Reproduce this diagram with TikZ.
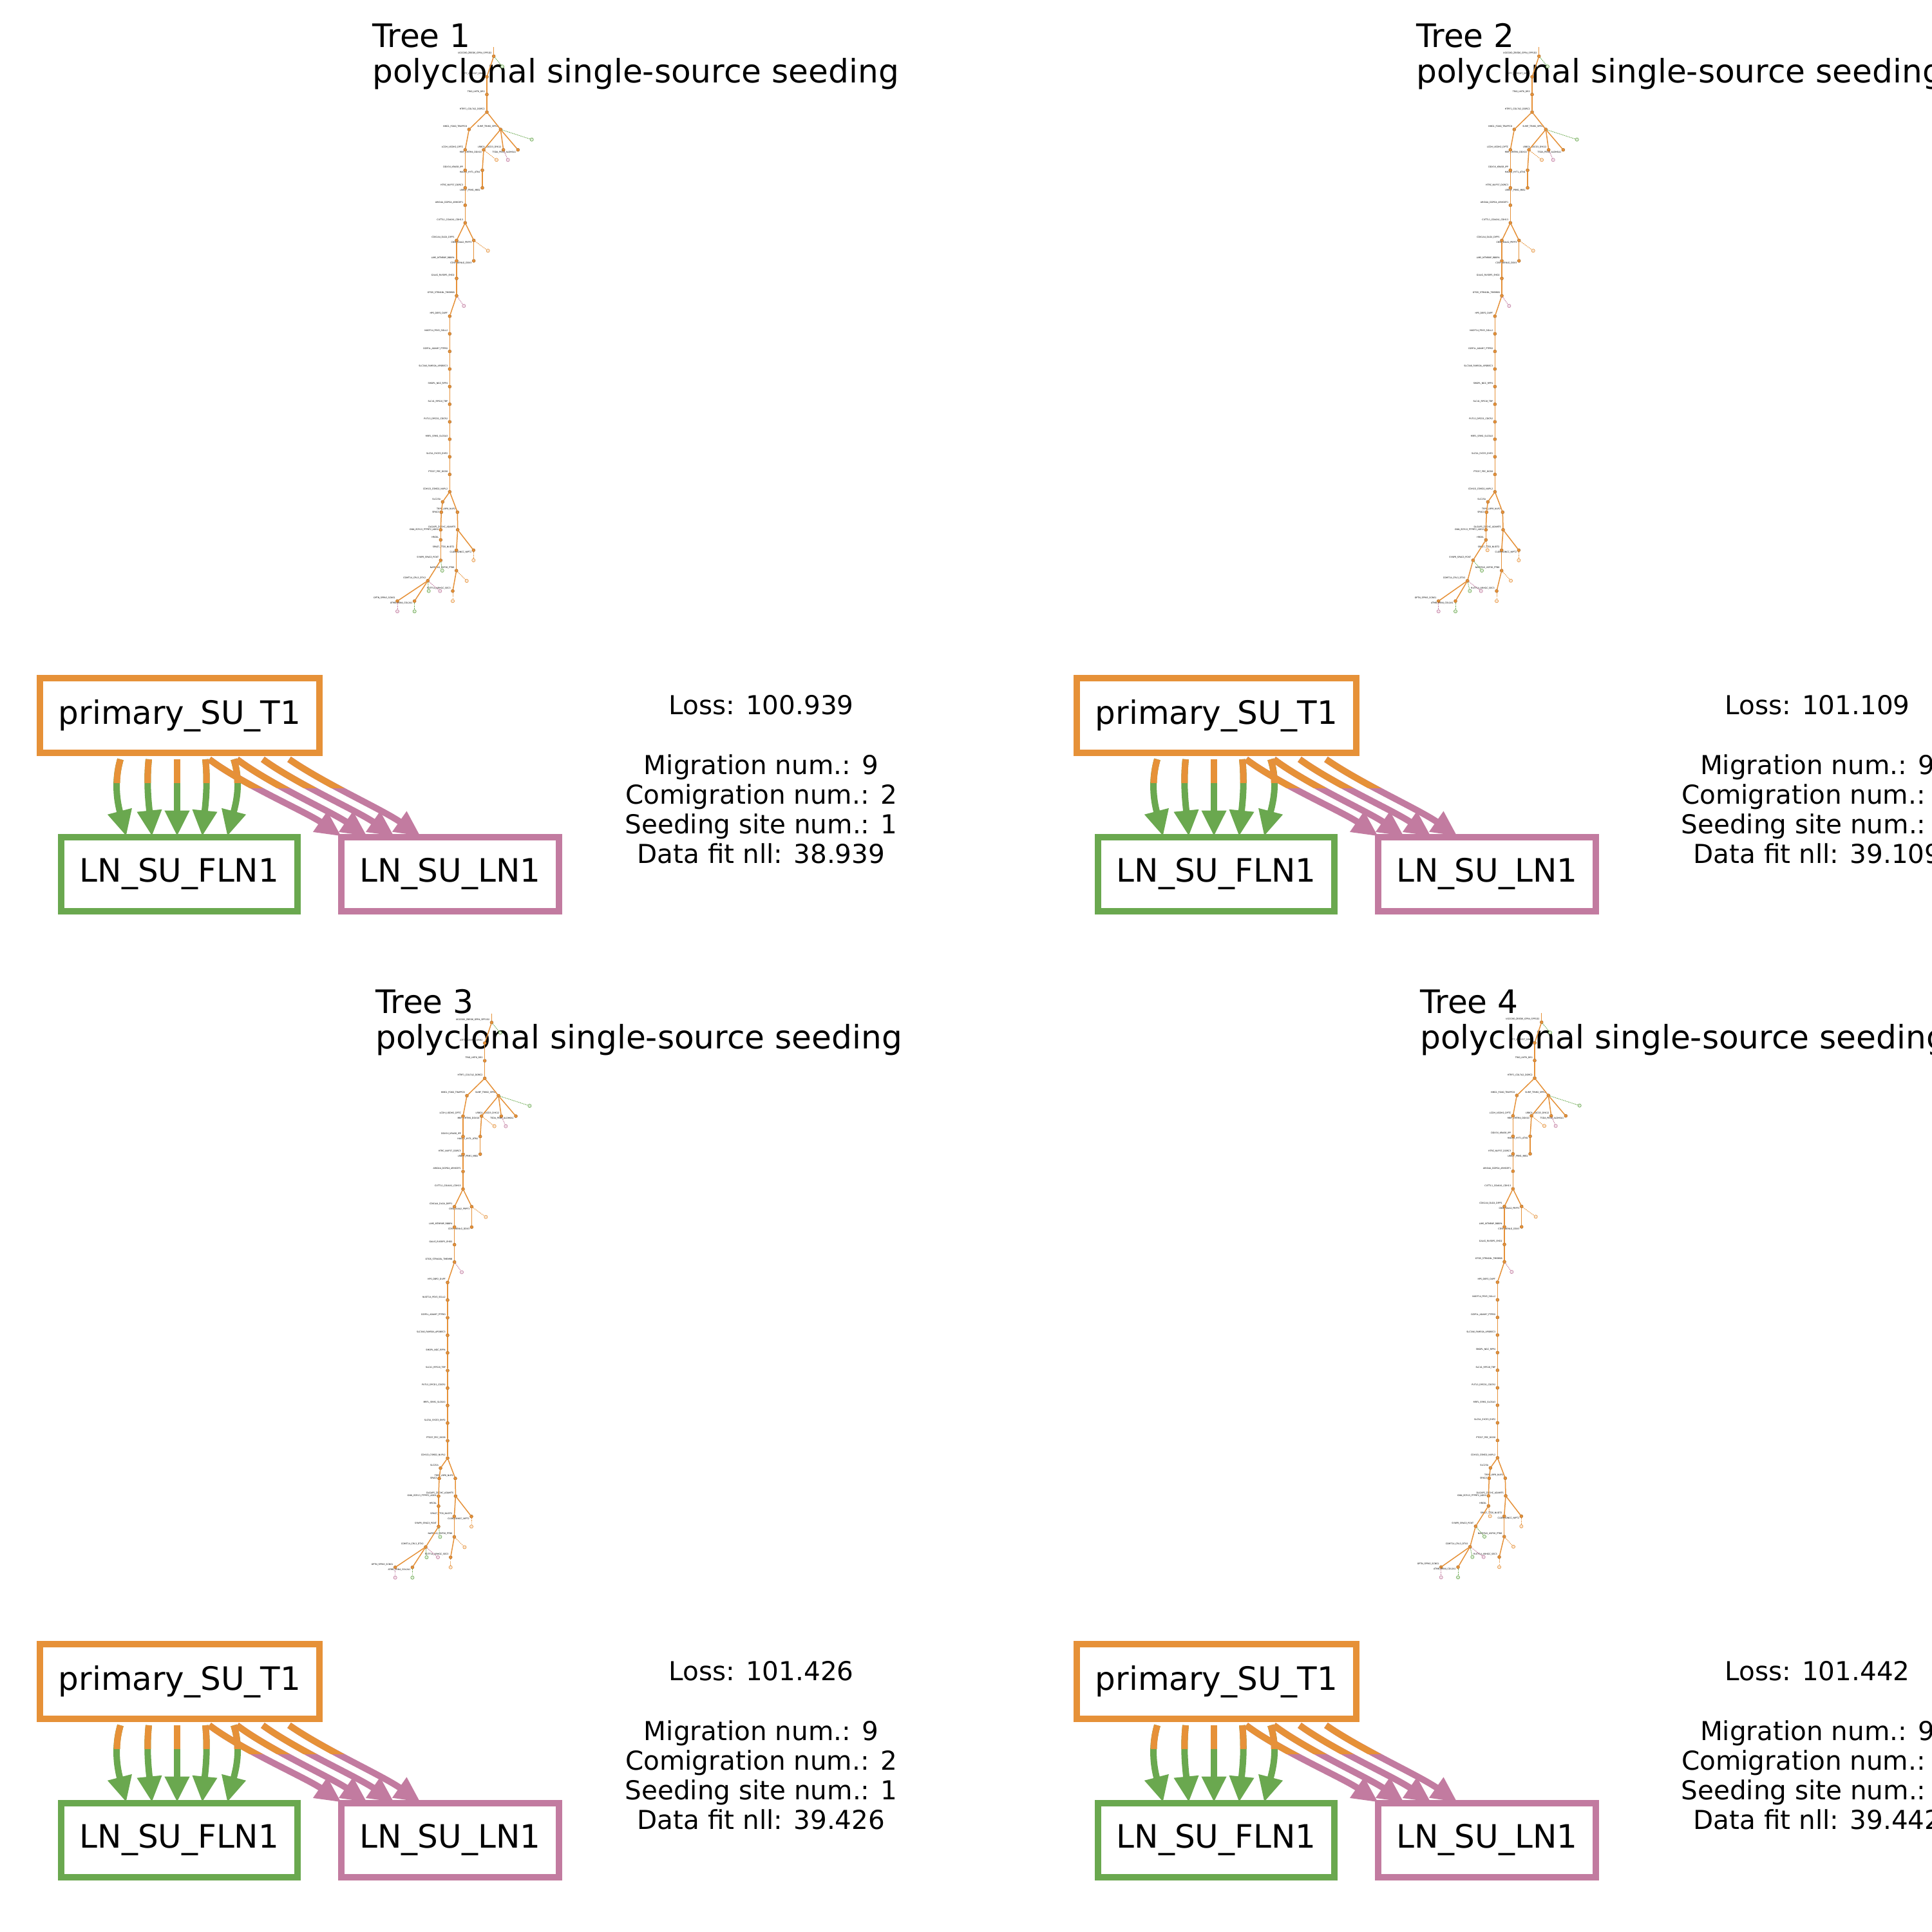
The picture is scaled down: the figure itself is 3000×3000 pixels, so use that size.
\documentclass[tikz,border=0pt]{standalone}
\usepackage{fontspec}
\setmainfont{DejaVu Sans}
\usetikzlibrary{arrows.meta}
\definecolor{cOr}{RGB}{230,145,56}
\definecolor{cGr}{RGB}{106,168,79}
\definecolor{cPk}{RGB}{194,123,160}
\tikzset{
  titletext/.style={anchor=base west,inner sep=0pt,font=\fontsize{50.2}{56}\selectfont},
  stattext/.style={anchor=base,inner sep=0pt,font=\fontsize{40.5}{46}\selectfont},
  sitebox/.style={draw=#1,line width=10pt,rectangle,inner sep=0pt,fill=white,font=\fontsize{50}{56}\selectfont},
  tnode/.style={circle,fill=cOr,draw=cOr!70!black,line width=0.4pt,minimum size=5pt,inner sep=0pt},
  tleaf/.style={circle,fill=#1!22,draw=#1,line width=0.6pt,minimum size=5.2pt,inner sep=0pt},
  tedge/.style={draw=cOr,line width=1.5pt},
  tdash/.style={draw=#1,line width=0.9pt,dash pattern=on 1.6pt off 1.1pt},
  tlabel/.style={anchor=east,inner sep=0pt,font=\fontsize{3.3}{4}\selectfont,text=black},
  migarrow/.style={draw=#1,line width=10pt,-{Triangle[length=40pt,width=36pt]}},
  migline/.style={draw=cOr,line width=10pt},
}
\newcommand\TN[5]{\node[tnode] (#1) at (#2,#3) {};\node[tlabel] (#1l) at ([xshift=-3pt,yshift=#5]#1.center) {#4};}
\newcommand\TL[5]{\node[tleaf=#4] (#1) at (#2,#3) {};\draw[tdash=#4] (#5) -- (#1);}
\newcommand\TE[2]{\draw[tedge] (#1) -- (#2);}
\newcommand\TreeTop{%
\coordinate (a0) at (766.7,73.3);
\TN{a}{766.7}{87.3}{UGCG9D\_ZBED6\_GPR4\_SPP1D2}{4.3pt}
\TN{b}{756}{119.3}{ATF7\_CD55SIT\_DRM2}{4.3pt}
\TN{c}{756}{146.7}{TRIO\_LMTK\_DR3}{4.3pt}
\TN{d}{756}{174}{HTRF1\_COL7A2\_DORC2}{4.3pt}
\TN{e}{728.3}{201}{HMG1\_FOXO\_TRAPPC8}{4.3pt}
\TN{f}{777.3}{201}{SUMF\_TRIM2\_SPPL2}{4.3pt}
\TN{g}{751}{232.7}{MBF\_CMTM4\_DDX10}{-3.5pt}
\TN{h}{781.7}{232.7}{LRBC4\_ADCD3\_DYK12}{4.3pt}
\TN{i}{804.3}{232.7}{TSDA\_PEG2\_ALDH6A1}{-3.5pt}
\TN{j}{749}{264.3}{HAGH2\_HYTL\_ATN1}{-3.5pt}
\TN{k}{749}{291.7}{LRBOF\_PRM1\_MIB2}{-3.5pt}
\TN{l}{722.3}{232.7}{LCDH\_UGDH2\_DPTC}{4.3pt}
\TN{m}{722.3}{264.3}{DDX3X\_KRAS8\_IPP}{4.3pt}
\TN{n}{722.3}{291.7}{HTRC\_NUP37\_DORC3}{4.3pt}
\TN{o}{722.3}{318.7}{ARID4A\_DGPG4\_ARHGEF1}{4.3pt}
\TN{p}{722.3}{346}{CUTTL1\_COL6A1\_CDH13}{4.3pt}
\TN{q}{709}{373.3}{CDK1A4\_DLG4\_DIPP1}{4.3pt}
\TN{r}{735.7}{373.3}{CBSL\_KIAA2\_PRPF3}{-3.5pt}
\TN{s}{735.7}{405}{CD5F\_DENLG\_DDX3}{-3.5pt}
\TN{t}{709}{405}{LIMS\_MTMR9P\_RBBP4}{4.3pt}
\TN{u}{709}{432.3}{GALIG\_RUSBP1\_EHD2}{4.3pt}
\TN{v}{709}{459.3}{OTOS\_STRN1BL\_TMEM9B}{4.3pt}
\TN{w}{698.3}{491}{HPS\_DBP2\_DUPF}{4.3pt}
\TN{c1}{698.3}{518.3}{NUDT14\_PEX5\_SGLL2}{4.3pt}
\TN{c2}{698.3}{545.7}{DZIP1L\_ADAM7\_PTPRD}{4.3pt}
\TN{c3}{698.3}{573}{SLC3A6\_FAM50A\_APOBEC3}{4.3pt}
\TN{c4}{698.3}{600.3}{SMOPL\_NGC\_RPP4}{4.3pt}
\TN{c5}{698.3}{627.7}{SLC41\_RPS18\_TBP}{4.3pt}
\TN{c6}{698.3}{655}{PUTL3\_DPCD1\_CDCR2}{4.3pt}
\TN{c7}{698.3}{682}{MRFL\_SRM1\_SLC6A3}{4.3pt}
\TN{c8}{698.3}{709.3}{SLC5A\_SYCE3\_EHP2}{4.3pt}
\TN{c9}{698.3}{736.7}{PTGS7\_PEC\_DGS8}{4.3pt}
\TN{x}{698.3}{763.7}{CDH1D\_CSMD2\_NUPL2}{4.3pt}
\TE{a0}{a}\TE{a}{b}\TE{b}{c}\TE{c}{d}\TE{d}{e}\TE{d}{f}
\TE{f}{g}\TE{f}{h}\TE{f}{i}\TE{g}{j}\TE{j}{k}
\TE{e}{l}\TE{l}{m}\TE{m}{n}\TE{n}{o}\TE{o}{p}\TE{p}{q}\TE{p}{r}\TE{r}{s}
\TE{q}{t}\TE{t}{u}\TE{u}{v}\TE{v}{w}\TE{w}{c1}\TE{c1}{c2}\TE{c2}{c3}\TE{c3}{c4}
\TE{c4}{c5}\TE{c5}{c6}\TE{c6}{c7}\TE{c7}{c8}\TE{c8}{c9}\TE{c9}{x}
\TL{lfa}{780}{103.3}{cGr}{a}
\TL{lff}{825.7}{216.7}{cGr}{f}
\TL{lfg}{771}{248.3}{cOr}{g}
\TL{lfh}{788.7}{248.3}{cPk}{h}
\TL{lfr}{757.7}{389.3}{cOr}{r}
\TL{lfv}{720.3}{475}{cPk}{v}
}
\newcommand\TreeLowA{%
\TN{y}{687.3}{779.3}{SLC25A}{4.3pt}
\TN{z}{710.3}{795.3}{TRP6\_LRP8\_NUP2}{4.3pt}
\TN{y2}{685.3}{795.3}{SPAG3}{0pt}
\TN{y3}{684.3}{822.7}{GNN\_ZCR13\_PTPRT2\_ADD2}{0pt}
\TN{y4}{684.3}{838.3}{HRC6L}{4.3pt}
\TN{y5}{684.3}{870}{SYNPR\_SPAG3\_PCNT}{4.3pt}
\TN{y6}{664.3}{901.7}{COMT14\_CRL3\_DTX2}{4.3pt}
\TN{y7}{617}{933.3}{OPTN\_SPPA5\_SCNS1}{4.3pt}
\TN{y8}{643.7}{933.3}{ATMB\_CKN4\_COL2A1}{-3.5pt}
\TN{z2}{710.7}{822.7}{DLGAP5\_ZCCHC\_ADAMTS}{4.3pt}
\TN{z3}{708.7}{854.3}{SPAG7\_TTC6\_NUDT2}{4.3pt}
\TN{z4}{735.3}{854.3}{CLDN\_LONCC\_NIPT2}{-3.5pt}
\TN{z5}{708.7}{886}{NAPEPLD\_USP30\_PTB8}{4.3pt}
\TN{z6}{703}{917.7}{RUTF14\_ARHGC\_SEC3}{4.3pt}
\TE{x}{y}\TE{x}{z}\TE{y}{y2}\TE{y2}{y3}\TE{y3}{y4}\TE{y4}{y5}\TE{y5}{y6}\TE{y6}{y7}\TE{y6}{y8}
\TE{z}{z2}\TE{z2}{z3}\TE{z2}{z4}\TE{z3}{z5}\TE{z5}{z6}
\TL{lfy5}{686.7}{886}{cGr}{y5}
\TL{lfy6a}{665.7}{917.7}{cGr}{y6}
\TL{lfy6b}{683.3}{917.7}{cPk}{y6}
\TL{lfy7}{617}{949.3}{cPk}{y7}
\TL{lfy8}{643.7}{949.3}{cGr}{y8}
\TL{lfz4}{735.3}{870}{cOr}{z4}
\TL{lfz5}{724.7}{902}{cOr}{z5}
\TL{lfz6}{703}{933.3}{cOr}{z6}
}
\newcommand\TreeLowB{%
\TN{y}{687.3}{779.3}{SLC25A}{4.3pt}
\TN{z}{710.3}{795.3}{TRP6\_LRP8\_NUP2}{4.3pt}
\TN{y2}{685.3}{795.3}{SPAG3}{0pt}
\TN{y3}{684.3}{822.7}{GNN\_ZCR13\_PTPRT2\_ADD2}{0pt}
\TN{y4}{684.3}{838.3}{HRC6L}{4.3pt}
\TN{y5}{664.3}{870}{SYNPR\_SPAG3\_PCNT}{4.3pt}
\TN{y6}{655.7}{901.7}{COMT14\_CRL3\_DTX2}{4.3pt}
\TN{y7}{610.7}{933.3}{OPTN\_SPPA5\_SCNS1}{4.3pt}
\TN{y8}{637}{933.3}{ATMB\_CKN4\_COL2A1}{-3.5pt}
\TN{z2}{711}{822.7}{DLGAP5\_ZCCHC\_ADAMTS}{4.3pt}
\TN{z3}{708.7}{854.3}{SPAG7\_TTC6\_NUDT2}{4.3pt}
\TN{z4}{735.3}{854.3}{CLDN\_LONCC\_NIPT2}{-3.5pt}
\TN{z5}{708.7}{886}{NAPEPLD\_USP30\_PTB8}{4.3pt}
\TN{z6}{701}{917.7}{RUTF14\_ARHGC\_SEC3}{4.3pt}
\TE{x}{y}\TE{x}{z}\TE{y}{y2}\TE{y2}{y3}\TE{y3}{y4}\TE{y4}{y5}\TE{y5}{y6}\TE{y6}{y7}\TE{y6}{y8}
\TE{z}{z2}\TE{z2}{z3}\TE{z2}{z4}\TE{z3}{z5}\TE{z5}{z6}
\TL{lfy4}{686.7}{854.3}{cOr}{y4}
\TL{lfy5}{678}{886}{cGr}{y5}
\TL{lfy6a}{659.3}{917.7}{cGr}{y6}
\TL{lfy6b}{676.7}{917.7}{cPk}{y6}
\TL{lfy7}{610.7}{949.3}{cPk}{y7}
\TL{lfy8}{637}{949.3}{cGr}{y8}
\TL{lfz4}{735.3}{870}{cOr}{z4}
\TL{lfz5}{723}{901.7}{cOr}{z5}
\TL{lfz6}{701}{933.3}{cOr}{z6}
}
\newcommand\TwoTone[5]{%
\draw[migarrow=#4] (#1) .. controls #2 .. (#3);
\begin{scope}\clip (-500,1100) rectangle (1500,#5);
\draw[migline] (#1) .. controls #2 .. (#3);\end{scope}}
\newcommand\MigGraph{%
\node[sitebox=cOr,minimum width=434pt,minimum height=116pt] (prim) at (279,1111) {primary\_SU\_T1};
\node[sitebox=cGr,minimum width=367pt,minimum height=115pt] (fln) at (278.5,1357) {LN\_SU\_FLN1};
\node[sitebox=cPk,minimum width=338pt,minimum height=115pt] (ln) at (699,1357) {LN\_SU\_LN1};
\foreach \n/\sx/\tx in {1/130/106,2/174/146,3/218/185,4/262/224,5/306/263}{%
  \coordinate (gs\n) at ([xshift=\sx pt,yshift=-5pt]prim.south west);
  \coordinate (gt\n) at ([xshift=\tx pt,yshift=-4pt]fln.north west);}
\foreach \n/\sx/\tx in {1/268/5,2/311/45,3/351/87,4/392/128}{%
  \coordinate (ps\n) at ([xshift=\sx pt,yshift=-5pt]prim.south west);
  \coordinate (pt\n) at ([xshift=\tx pt,yshift=-4pt]ln.north west);}
\TwoTone{gs1}{+(-11,38) and +(-13,-50)}{gt1}{cGr}{1215}
\TwoTone{gs2}{+(-4,38) and +(-5,-50)}{gt2}{cGr}{1215}
\TwoTone{gs3}{+(0,38) and +(0,-50)}{gt3}{cGr}{1215}
\TwoTone{gs4}{+(4,38) and +(5,-50)}{gt4}{cGr}{1215}
\TwoTone{gs5}{+(12,38) and +(13,-50)}{gt5}{cGr}{1215}
\TwoTone{ps1}{+(50,38) and +(-55,-38)}{pt1}{cPk}{1223}
\TwoTone{ps2}{+(50,38) and +(-55,-38)}{pt2}{cPk}{1223}
\TwoTone{ps3}{+(52,38) and +(-58,-40)}{pt3}{cPk}{1223}
\TwoTone{ps4}{+(55,38) and +(-60,-42)}{pt4}{cPk}{1223}
}
\newcommand\Stats[2]{%
\node[stattext] (st1) at (1182,1109) {Loss: #1};
\node[stattext] (st2) at (1182,1202) {Migration num.: 9};
\node[stattext] (st3) at (1182,1248) {Comigration num.: 2};
\node[stattext] (st4) at (1182,1294) {Seeding site num.: 1};
\node[stattext] (st5) at (1182,1340) {Data fit nll: #2};
}
\newcommand\TreeTitle[1]{%
\node[titletext] (tt1) at (0,73.3) {Tree #1};
\node[titletext] (tt2) at (0,128.3) {polyclonal single-source seeding};
}
\begin{document}
\begin{tikzpicture}[x=1pt,y=-1pt]
\useasboundingbox (0,0) rectangle (3000,3000);
\clip (0,0) rectangle (3000,3000);
\fill[white] (0,0) rectangle (3000,3000);
% titles
\begin{scope}[shift={(578,0)},name prefix=H1-]\TreeTitle{1}\end{scope}
\begin{scope}[shift={(2199,0)},name prefix=H2-]\TreeTitle{2}\end{scope}
\begin{scope}[shift={(583,1500)},name prefix=H3-]\TreeTitle{3}\end{scope}
\begin{scope}[shift={(2205,1500)},name prefix=H4-]\TreeTitle{4}\end{scope}
% trees
\begin{scope}[shift={(0,0)},name prefix=T1-]\TreeTop\TreeLowA\end{scope}
\begin{scope}[shift={(1623,0)},name prefix=T2-]\TreeTop\TreeLowB\end{scope}
\begin{scope}[shift={(-3.3,1500.4)},name prefix=T3-]\TreeTop\TreeLowA\end{scope}
\begin{scope}[shift={(1627,1500)},name prefix=T4-]\TreeTop\TreeLowB\end{scope}
% migration graphs
\begin{scope}[shift={(0,0)},name prefix=G1-]\MigGraph\end{scope}
\begin{scope}[shift={(1610,0)},name prefix=G2-]\MigGraph\end{scope}
\begin{scope}[shift={(0,1500)},name prefix=G3-]\MigGraph\end{scope}
\begin{scope}[shift={(1610,1500)},name prefix=G4-]\MigGraph\end{scope}
% stats
\begin{scope}[shift={(0,0)},name prefix=S1-]\Stats{100.939}{38.939}\end{scope}
\begin{scope}[shift={(1640,0)},name prefix=S2-]\Stats{101.109}{39.109}\end{scope}
\begin{scope}[shift={(0,1500)},name prefix=S3-]\Stats{101.426}{39.426}\end{scope}
\begin{scope}[shift={(1640,1500)},name prefix=S4-]\Stats{101.442}{39.442}\end{scope}
\end{tikzpicture}
\end{document}
